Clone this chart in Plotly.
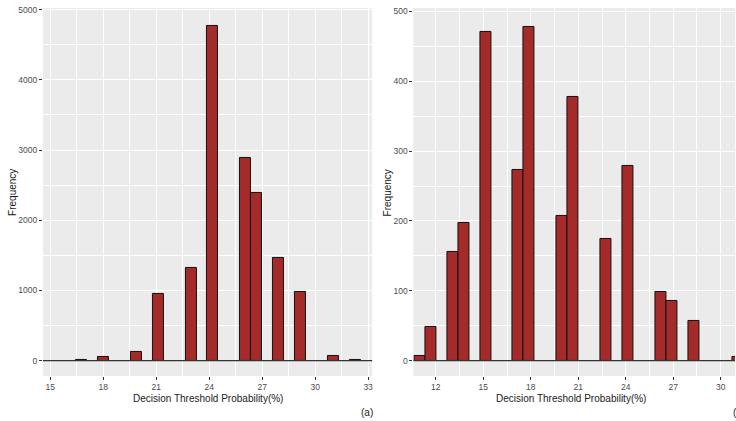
import plotly.graph_objects as go

# ---- data ----
a_centers = [16.78, 18.02, 19.87, 21.11, 22.97, 24.21, 26.07, 26.69, 27.93, 29.17, 31.03, 32.27]
a_counts = [12, 60, 122, 955, 1315, 4769, 2884, 2385, 1461, 980, 61, 12]
a_binwidth = 0.62

b_centers = [10.98, 11.67, 13.06, 13.75, 15.14, 17.22, 17.91, 19.99, 20.68, 22.76, 24.15, 26.23, 26.92, 28.31, 31.08]
b_counts = [7, 48, 155, 197, 470, 273, 478, 207, 378, 174, 279, 98, 85, 57, 6]
b_binwidth = 0.693

x_title = "Decision Threshold Probability(%)"
y_title = "Frequency"

W, H = 736, 421
FILL = "#A52A2A"
FONT = "Liberation Sans, Arial, sans-serif"

fig = go.Figure()
fig.add_trace(go.Bar(x=a_centers, y=a_counts, width=[a_binwidth] * len(a_centers),
                     marker=dict(color=FILL, line=dict(color="#111111", width=1)),
                     xaxis="x", yaxis="y", showlegend=False))
fig.add_trace(go.Bar(x=b_centers, y=b_counts, width=[b_binwidth] * len(b_centers),
                     marker=dict(color=FILL, line=dict(color="#111111", width=1)),
                     xaxis="x2", yaxis="y2", showlegend=False))

ydom = [1 - 375.7 / H, 1 - 5 / H]
common_ax = dict(showgrid=True, gridcolor="white", gridwidth=1.1, zeroline=False,
                 ticks="outside", ticklen=3, tickwidth=1, tickcolor="#333333",
                 showline=False, tickfont=dict(family=FONT, size=8.5, color="#4D4D4D"))

fig.update_layout(
    width=W, height=H, margin=dict(l=0, r=0, t=0, b=0),
    paper_bgcolor="white", plot_bgcolor="#EBEBEB", bargap=0,
    font=dict(family=FONT),
    xaxis=dict(domain=[43 / W, 372.7 / W], range=[14.59, 33.23], tick0=15, dtick=3,
               minor=dict(dtick=1.5, showgrid=True, gridcolor="white", gridwidth=0.5, ticks=""),
               anchor="y", **common_ax),
    yaxis=dict(domain=ydom, range=[-218, 5023], tick0=0, dtick=1000,
               minor=dict(dtick=500, showgrid=True, gridcolor="white", gridwidth=0.5, ticks=""),
               anchor="x", **common_ax),
    xaxis2=dict(domain=[414 / W, 1.0], range=[10.59, 30.90], tick0=12, dtick=3,
                minor=dict(dtick=1.5, showgrid=True, gridcolor="white", gridwidth=0.5, ticks=""),
                anchor="y2", **common_ax),
    yaxis2=dict(domain=ydom, range=[-22, 505], tick0=0, dtick=100,
                minor=dict(dtick=50, showgrid=True, gridcolor="white", gridwidth=0.5, ticks=""),
                anchor="x2", **common_ax),
)

# zero reference lines
for xr, yr in (("x domain", "y"), ("x2 domain", "y2")):
    fig.add_shape(type="line", xref=xr, yref=yr, x0=0, x1=1, y0=0, y1=0,
                  line=dict(color="#333333", width=1.2), layer="above")

# axis titles and panel tags
ann_font = dict(family=FONT, size=10, color="#1a1a1a")
fig.add_annotation(text=x_title, xref="paper", yref="paper", x=(43 + 372.7) / 2 / W, y=1 - 398 / H,
                   showarrow=False, font=ann_font, xanchor="center", yanchor="middle")
fig.add_annotation(text=x_title, xref="paper", yref="paper", x=(414 + 736) / 2 / W - 0.005, y=1 - 398 / H,
                   showarrow=False, font=ann_font, xanchor="center", yanchor="middle")
fig.add_annotation(text=y_title, xref="paper", yref="paper", x=12.3 / W, y=1 - 191 / H, textangle=-90,
                   showarrow=False, font=ann_font, xanchor="center", yanchor="middle")
fig.add_annotation(text=y_title, xref="paper", yref="paper", x=388.3 / W, y=1 - 191 / H, textangle=-90,
                   showarrow=False, font=ann_font, xanchor="center", yanchor="middle")
fig.add_annotation(text="(a)", xref="paper", yref="paper", x=367.3 / W, y=1 - 412.3 / H,
                   showarrow=False, font=dict(family=FONT, size=10, color="#1a1a1a"),
                   xanchor="center", yanchor="middle")
fig.add_annotation(text="(b)", xref="paper", yref="paper", x=732 / W, y=1 - 412.3 / H,
                   showarrow=False, font=dict(family=FONT, size=10, color="#1a1a1a"),
                   xanchor="left", yanchor="middle")

fig.write_html("out.html")
